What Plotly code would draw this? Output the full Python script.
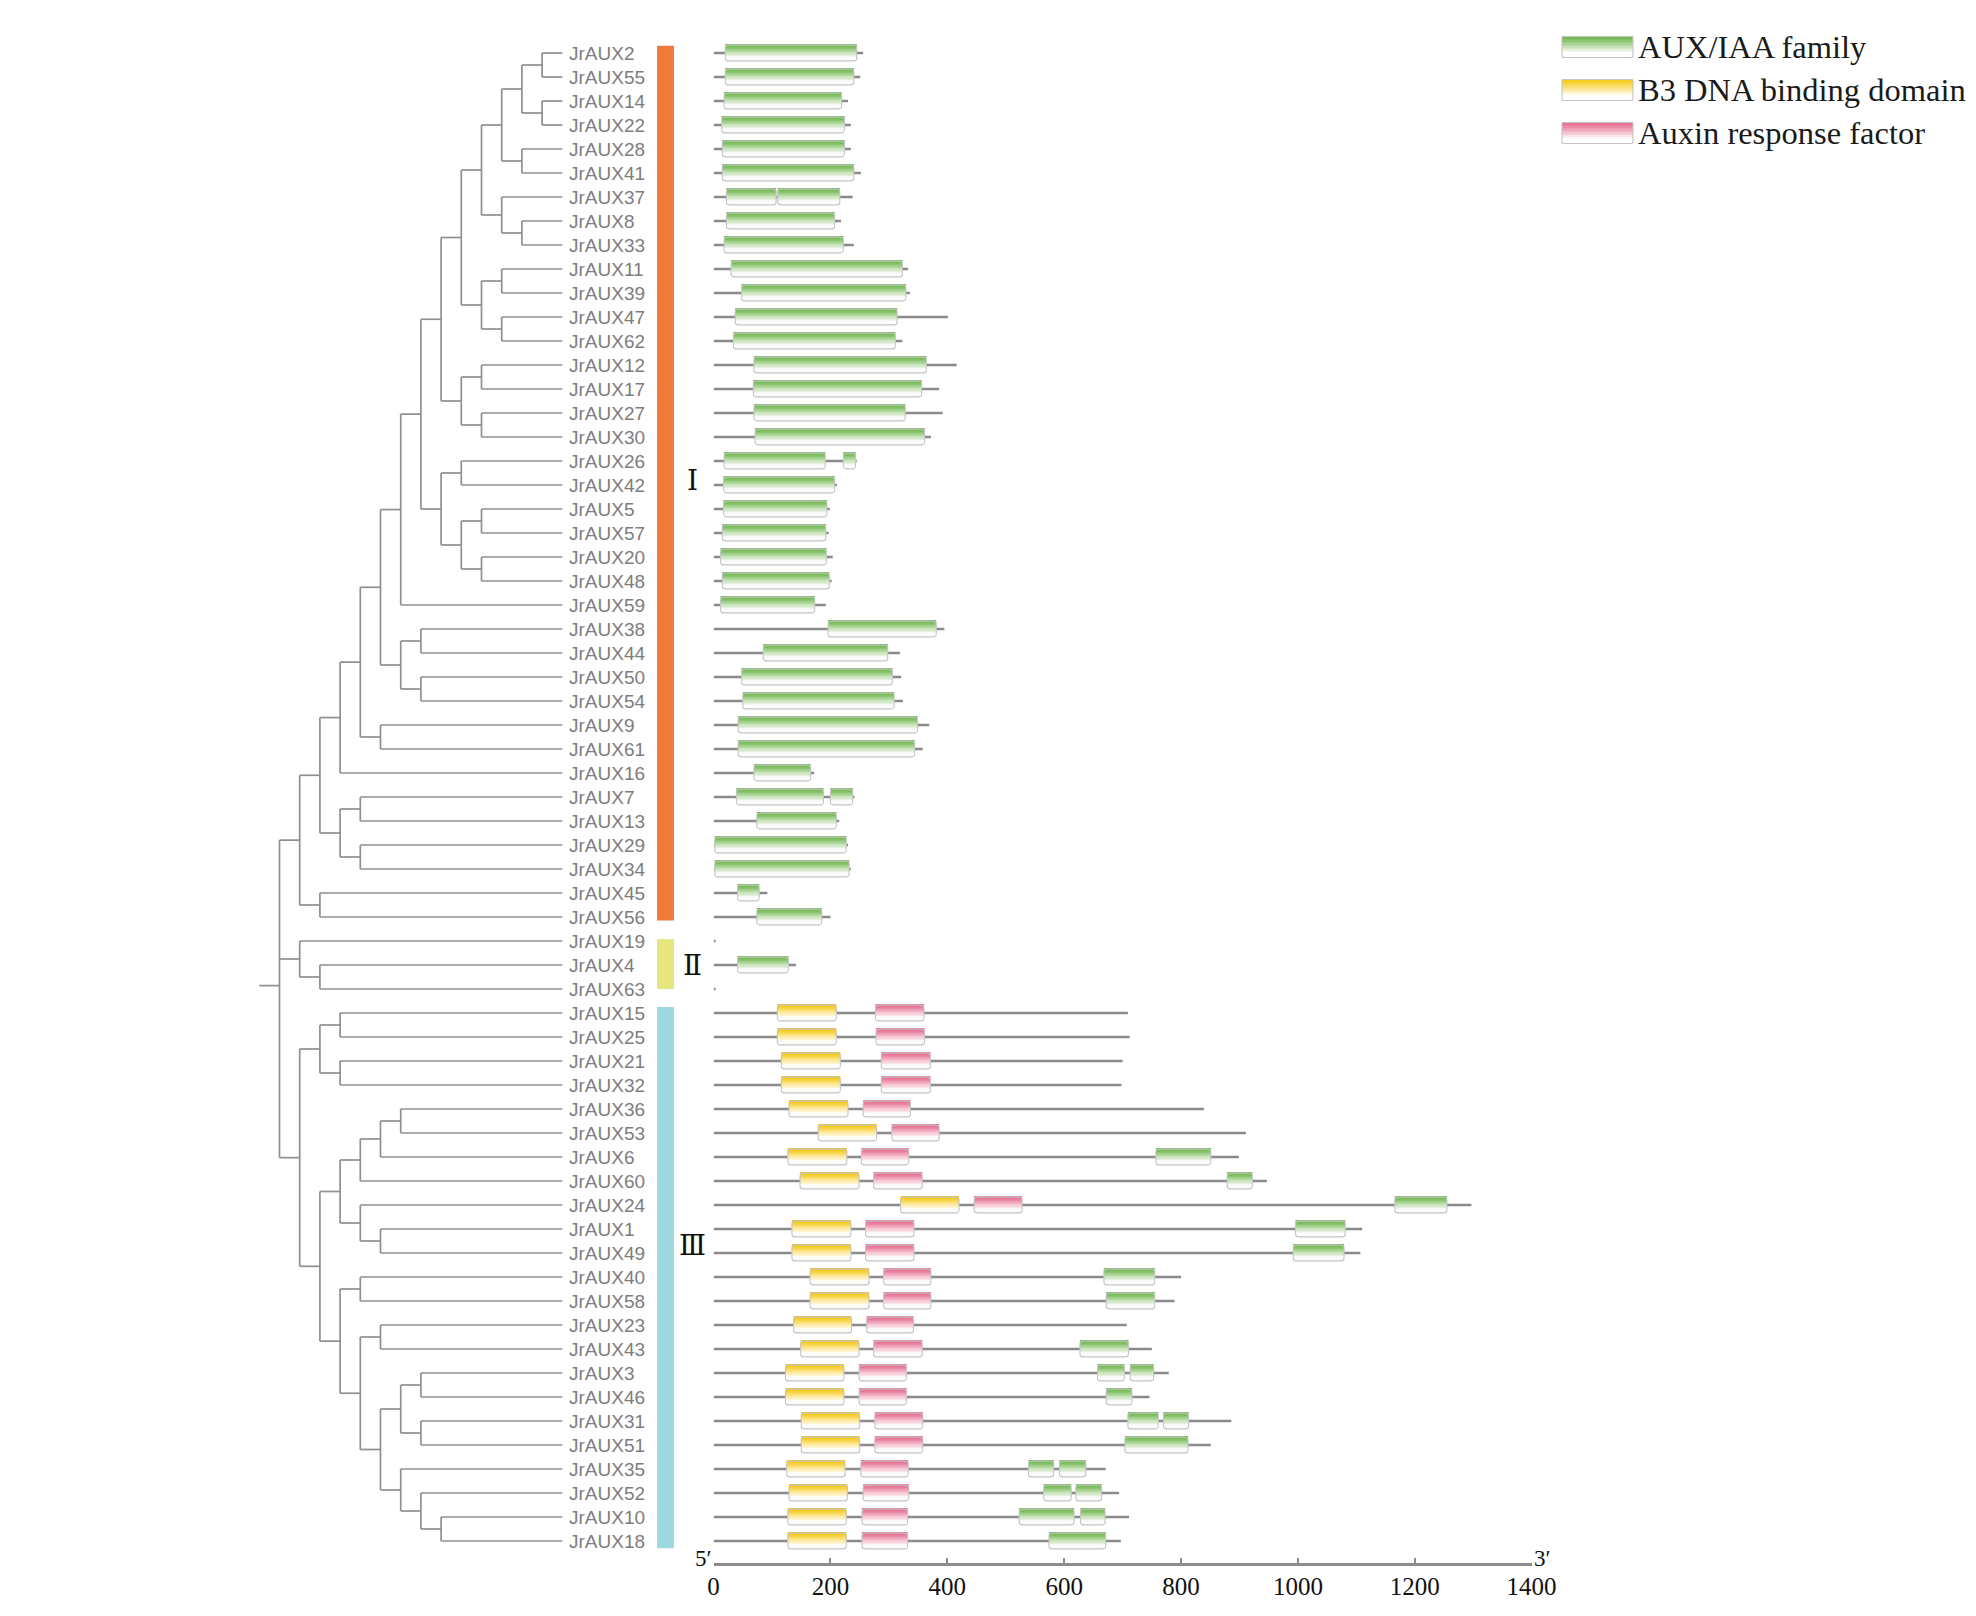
import plotly.graph_objects as go

# genes in tree order, top to bottom
genes = [
    "JrAUX2", "JrAUX55", "JrAUX14", "JrAUX22", "JrAUX28", "JrAUX41", "JrAUX37", "JrAUX8",
    "JrAUX33", "JrAUX11", "JrAUX39", "JrAUX47", "JrAUX62", "JrAUX12", "JrAUX17", "JrAUX27",
    "JrAUX30", "JrAUX26", "JrAUX42", "JrAUX5", "JrAUX57", "JrAUX20", "JrAUX48", "JrAUX59",
    "JrAUX38", "JrAUX44", "JrAUX50", "JrAUX54", "JrAUX9", "JrAUX61", "JrAUX16", "JrAUX7",
    "JrAUX13", "JrAUX29", "JrAUX34", "JrAUX45", "JrAUX56", "JrAUX19", "JrAUX4", "JrAUX63",
    "JrAUX15", "JrAUX25", "JrAUX21", "JrAUX32", "JrAUX36", "JrAUX53", "JrAUX6", "JrAUX60",
    "JrAUX24", "JrAUX1", "JrAUX49", "JrAUX40", "JrAUX58", "JrAUX23", "JrAUX43", "JrAUX3",
    "JrAUX46", "JrAUX31", "JrAUX51", "JrAUX35", "JrAUX52", "JrAUX10", "JrAUX18",
]

# protein length (aa), same order as genes
gene_len = [
    256, 251, 230, 235, 235, 252, 238, 218, 240, 333, 336, 401, 323, 416, 386, 392,
    372, 245, 211, 199, 197, 204, 202, 192, 395, 319, 321, 324, 369, 358, 172, 241,
    215, 230, 235, 92, 200, 3, 141, 3,
    709, 712, 700, 698, 839, 911, 899, 947, 1297, 1110, 1107, 800, 789, 707, 750, 779,
    746, 886, 851, 671, 694, 711, 697,
]

# cladogram topology (class I, class II, class III)
tree_newick = (
    "("
    "((((((((((((("
    "JrAUX2,JrAUX55),(JrAUX14,JrAUX22)),(JrAUX28,JrAUX41)),(JrAUX37,(JrAUX8,JrAUX33))),"
    "((JrAUX11,JrAUX39),(JrAUX47,JrAUX62))),((JrAUX12,JrAUX17),(JrAUX27,JrAUX30))),"
    "((JrAUX26,JrAUX42),((JrAUX5,JrAUX57),(JrAUX20,JrAUX48)))),JrAUX59),"
    "((JrAUX38,JrAUX44),(JrAUX50,JrAUX54))),(JrAUX9,JrAUX61)),JrAUX16),"
    "((JrAUX7,JrAUX13),(JrAUX29,JrAUX34))),(JrAUX45,JrAUX56)),"
    "(JrAUX19,(JrAUX4,JrAUX63)),"
    "(((JrAUX15,JrAUX25),(JrAUX21,JrAUX32)),"
    "(((((JrAUX36,JrAUX53),JrAUX6),JrAUX60),(JrAUX24,(JrAUX1,JrAUX49))),"
    "((JrAUX40,JrAUX58),((JrAUX23,JrAUX43),(((JrAUX3,JrAUX46),(JrAUX31,JrAUX51)),"
    "(JrAUX35,(JrAUX52,(JrAUX10,JrAUX18))))))))"
    ");"
)

# domains: (gene, start, end)
aux_domains = [
    ("JrAUX2", 20, 245), ("JrAUX55", 20, 240), ("JrAUX14", 18, 219), ("JrAUX22", 14, 224),
    ("JrAUX28", 15, 224), ("JrAUX41", 15, 240), ("JrAUX37", 22, 107), ("JrAUX37", 110, 216),
    ("JrAUX8", 22, 207), ("JrAUX33", 18, 222), ("JrAUX11", 30, 323), ("JrAUX39", 48, 329),
    ("JrAUX47", 37, 314), ("JrAUX62", 34, 311), ("JrAUX12", 69, 364), ("JrAUX17", 68, 356),
    ("JrAUX27", 69, 328), ("JrAUX30", 71, 361), ("JrAUX26", 18, 191), ("JrAUX26", 222, 243),
    ("JrAUX42", 17, 207), ("JrAUX5", 17, 194), ("JrAUX57", 15, 192), ("JrAUX20", 12, 193),
    ("JrAUX48", 15, 198), ("JrAUX59", 12, 173), ("JrAUX38", 196, 381), ("JrAUX44", 85, 298),
    ("JrAUX50", 48, 306), ("JrAUX54", 50, 309), ("JrAUX9", 42, 349), ("JrAUX61", 42, 344),
    ("JrAUX16", 69, 166), ("JrAUX7", 39, 188), ("JrAUX7", 200, 238), ("JrAUX13", 74, 210),
    ("JrAUX29", 2, 227), ("JrAUX34", 2, 232), ("JrAUX45", 41, 78), ("JrAUX56", 74, 185),
    ("JrAUX4", 41, 128),
    ("JrAUX6", 757, 851), ("JrAUX60", 879, 922), ("JrAUX24", 1166, 1255), ("JrAUX1", 996, 1081),
    ("JrAUX49", 992, 1079), ("JrAUX40", 668, 755), ("JrAUX58", 672, 755), ("JrAUX43", 627, 710),
    ("JrAUX3", 657, 703), ("JrAUX3", 713, 753), ("JrAUX46", 672, 716), ("JrAUX31", 709, 761),
    ("JrAUX31", 770, 813), ("JrAUX51", 704, 812), ("JrAUX35", 539, 582), ("JrAUX35", 592, 637),
    ("JrAUX52", 565, 612), ("JrAUX52", 620, 664), ("JrAUX10", 523, 617), ("JrAUX10", 628, 670),
    ("JrAUX18", 574, 671),
]
b3_domains = [
    ("JrAUX15", 109, 210), ("JrAUX25", 109, 210), ("JrAUX21", 116, 217), ("JrAUX32", 116, 217),
    ("JrAUX36", 129, 230), ("JrAUX53", 179, 279), ("JrAUX6", 127, 228), ("JrAUX60", 148, 249),
    ("JrAUX24", 320, 420), ("JrAUX1", 134, 235), ("JrAUX49", 134, 235), ("JrAUX40", 165, 266),
    ("JrAUX58", 165, 266), ("JrAUX23", 137, 236), ("JrAUX43", 149, 249), ("JrAUX3", 123, 223),
    ("JrAUX46", 123, 223), ("JrAUX31", 150, 250), ("JrAUX51", 150, 250), ("JrAUX35", 125, 225),
    ("JrAUX52", 129, 229), ("JrAUX10", 127, 227), ("JrAUX18", 127, 227),
]
arf_domains = [
    ("JrAUX15", 277, 360), ("JrAUX25", 278, 361), ("JrAUX21", 287, 371), ("JrAUX32", 287, 371),
    ("JrAUX36", 256, 337), ("JrAUX53", 305, 386), ("JrAUX6", 253, 334), ("JrAUX60", 274, 357),
    ("JrAUX24", 446, 528), ("JrAUX1", 260, 343), ("JrAUX49", 260, 343), ("JrAUX40", 291, 372),
    ("JrAUX58", 291, 372), ("JrAUX23", 262, 342), ("JrAUX43", 274, 357), ("JrAUX3", 249, 330),
    ("JrAUX46", 249, 330), ("JrAUX31", 276, 358), ("JrAUX51", 276, 358), ("JrAUX35", 252, 333),
    ("JrAUX52", 256, 334), ("JrAUX10", 254, 332), ("JrAUX18", 254, 332),
]

class_names = ["Ⅰ", "Ⅱ", "Ⅲ"]
class_first = ["JrAUX2", "JrAUX19", "JrAUX15"]
class_last = ["JrAUX56", "JrAUX63", "JrAUX18"]

legend_names = ["AUX/IAA family", "B3 DNA binding domain", "Auxin response factor"]

axis_ticks = [0, 200, 400, 600, 800, 1000, 1200, 1400]

# ---- style ----
# the page body adds an 8px margin, so the figure is made 16px smaller and
# every target position (image pixels) is shifted by OFF
OFF = 8
W, H = 1976 - 2 * OFF, 1616 - 2 * OFF
GREEN, YELLOW, PINK = "#6ab446", "#f7c80c", "#e6668b"
class_colors = ["#f27a3a", "#e7e67e", "#9ed8e0"]
class_pad = [(0.3, 0.15), (0.08, 0.0), (0.25, 0.3)]
numeral_rows = [17.8, 38.0, 49.7]
TREE_GRAY = "#8f8f8f"
BOX_H = 0.66      # box height in rows
NSTRIP = 14
LEAF_LEVEL = 14

ROW0, ROW_STEP = 53 - OFF, 24          # y of first row, row spacing
LEV0, LEV_STEP = 279.5 - OFF, 20.2     # x of tree level 0, level spacing
AXIS_Y = 1563 - OFF                    # gene axis line
GX0, GX1 = 713.6 - OFF, 1531.6 - OFF   # gene axis 0 .. 1400
TREE_END = 711 - OFF
LEG_X0, LEG_H = 1541.28 - OFF, 170 - OFF


def parse_newick(s):
    s = s.strip().rstrip(";")
    pos = 0

    def node():
        nonlocal pos
        if s[pos] == "(":
            pos += 1
            kids = [node()]
            while s[pos] == ",":
                pos += 1
                kids.append(node())
            pos += 1
            return kids
        start = pos
        while s[pos] not in ",()":
            pos += 1
        return s[start:pos]

    return node()


def leaves(n):
    if isinstance(n, str):
        return [n]
    return [l for c in n for l in leaves(c)]


def shade(hexc, t):
    # saturated at the top, white towards the bottom
    r, g, b = int(hexc[1:3], 16), int(hexc[3:5], 16), int(hexc[5:7], 16)
    f = min(1.0, t / 0.8) ** 1.2
    return "rgb(%d,%d,%d)" % (r + (255 - r) * f, g + (255 - g) * f, b + (255 - b) * f)


row_of = {g: i for i, g in enumerate(genes)}
fig = go.Figure()

# ---- tree ----
tree = parse_newick(tree_newick)
assert leaves(tree) == genes
tx, ty = [], []


def draw(n, depth):
    if isinstance(n, str):
        return LEAF_LEVEL, row_of[n]
    pts = [draw(c, depth + 1) for c in n]
    ys = [p[1] for p in pts]
    for cx, cy in pts:
        tx.extend([depth, cx, None])
        ty.extend([cy, cy, None])
    tx.extend([depth, depth, None])
    ty.extend([min(ys), max(ys), None])
    return depth, sum(ys) / len(ys)


_, root_y = draw(tree, 0)
tx.extend([-1, 0, None])
ty.extend([root_y, root_y, None])

fig.add_trace(go.Scatter(x=tx, y=ty, mode="lines", xaxis="x", yaxis="y",
                         line=dict(color=TREE_GRAY, width=1.7), hoverinfo="skip"))

# class bars
cb_y, cb_w = [], []
for f, l, (pt, pb) in zip(class_first, class_last, class_pad):
    top, bot = row_of[f] - pt, row_of[l] + pb
    cb_y.append((top + bot) / 2)
    cb_w.append(bot - top)
fig.add_trace(go.Bar(orientation="h", y=cb_y, width=cb_w, base=18.69, x=[0.84] * 3,
                     marker=dict(color=class_colors, line=dict(width=0)),
                     xaxis="x", yaxis="y", hoverinfo="skip"))

# ---- gene structures ----
fig.add_trace(go.Bar(orientation="h", y=list(range(len(genes))), base=0, x=gene_len,
                     width=0.095, marker=dict(color="#8a8a8a", line=dict(width=0)),
                     xaxis="x2", yaxis="y", hoverinfo="skip"))


def gradient_boxes(x0, x1, yc, h, cols, xa, ya, radius):
    for s in range(NSTRIP):
        t = (s + 0.5) / NSTRIP
        fig.add_trace(go.Bar(
            orientation="h",
            y=[y - h / 2 + (s + 0.5) * h / NSTRIP for y in yc],
            base=x0, x=[b - a for a, b in zip(x0, x1)],
            width=h / NSTRIP * 1.25,
            marker=dict(color=[shade(c, t) for c in cols], line=dict(width=0)),
            xaxis=xa, yaxis=ya, hoverinfo="skip"))
    fig.add_trace(go.Bar(
        orientation="h", y=yc, base=x0, x=[b - a for a, b in zip(x0, x1)], width=h,
        marker=dict(color="rgba(0,0,0,0)", line=dict(color="#c4c4c4", width=1.1),
                    cornerradius=radius),
        xaxis=xa, yaxis=ya, hoverinfo="skip"))


dx0, dx1, dy, dc = [], [], [], []
for doms, col in ((aux_domains, GREEN), (b3_domains, YELLOW), (arf_domains, PINK)):
    for g, a, b in doms:
        dx0.append(a)
        dx1.append(b)
        dy.append(row_of[g])
        dc.append(col)
gradient_boxes(dx0, dx1, dy, BOX_H, dc, "x2", "y", 3)

# ---- legend (drawn as marks in its own small axes, pixel units) ----
leg_y = [47 - OFF, 90 - OFF, 133 - OFF]
gradient_boxes([20.7] * 3, [91.7] * 3, leg_y, 21, [GREEN, YELLOW, PINK], "x3", "y2", 2)

annotations = []
for name, y in zip(legend_names, leg_y):
    annotations.append(dict(x=95, y=y, xref="x3", yref="y2", text=name, showarrow=False,
                            xanchor="left", yanchor="middle",
                            font=dict(family="Liberation Serif", size=32.5, color="#1a1a1a")))

for g in genes:
    annotations.append(dict(x=14.22, y=row_of[g], xref="x", yref="y", text=g, showarrow=False,
                            xanchor="left", yanchor="middle",
                            font=dict(family="Liberation Sans", size=19, color="#7d7d7d")))

for name, r in zip(class_names, numeral_rows):
    annotations.append(dict(x=20.45, y=r, xref="x", yref="y", text=name, showarrow=False,
                            xanchor="center", yanchor="middle",
                            font=dict(family="Liberation Serif, DejaVu Serif, serif",
                                      size=28, color="#111111")))

axis_y = 1 - AXIS_Y / H
prime_y = 1 - (AXIS_Y - 5) / H
annotations.append(dict(x=0, y=prime_y, xref="x2", yref="paper", text="5′", showarrow=False,
                        xanchor="right", yanchor="middle",
                        font=dict(family="Liberation Serif", size=23, color="#111111")))
annotations.append(dict(x=1400, y=prime_y, xref="x2", yref="paper", text="3′", showarrow=False,
                        xanchor="left", yanchor="middle",
                        font=dict(family="Liberation Serif", size=23, color="#111111")))

fig.update_layout(
    width=W, height=H, autosize=False,
    margin=dict(l=0, r=0, t=0, b=0, pad=0, autoexpand=False),
    paper_bgcolor="white", plot_bgcolor="rgba(0,0,0,0)",
    showlegend=False, barmode="overlay", annotations=annotations,
    xaxis=dict(domain=[0, TREE_END / W], anchor="y", visible=False,
               range=[-LEV0 / LEV_STEP, (TREE_END - LEV0) / LEV_STEP]),
    xaxis2=dict(domain=[GX0 / W, GX1 / W], anchor="y", range=[0, 1400],
                showline=True, linecolor="#8c8c8c", linewidth=2.5,
                ticks="inside", ticklen=5, tickwidth=1.5, tickcolor="#8c8c8c",
                tickvals=axis_ticks, showgrid=False, zeroline=False, automargin=False,
                ticklabelstandoff=-1,
                tickfont=dict(family="Liberation Serif", size=25, color="#111111")),
    yaxis=dict(domain=[axis_y, 1], anchor="x", visible=False, automargin=False,
               range=[(AXIS_Y - ROW0) / ROW_STEP, -ROW0 / ROW_STEP]),
    xaxis3=dict(domain=[LEG_X0 / W, 1], anchor="y2", visible=False, automargin=False,
                range=[0, W - LEG_X0]),
    yaxis2=dict(domain=[1 - LEG_H / H, 1], anchor="x3", visible=False, automargin=False,
                range=[LEG_H, 0]),
)

fig.write_html("out.html")
